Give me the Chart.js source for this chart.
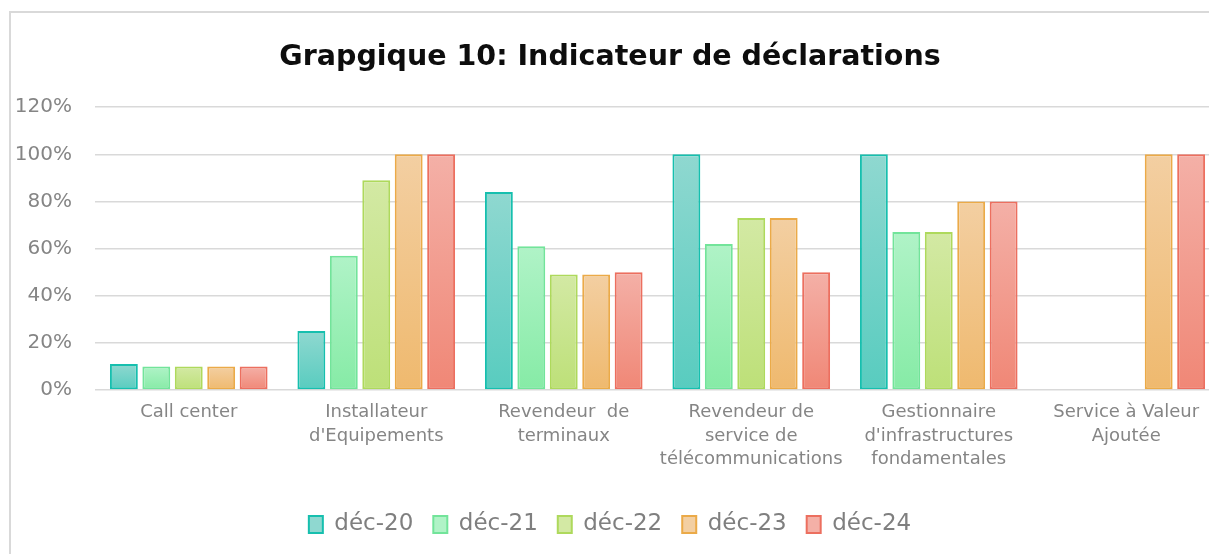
<!DOCTYPE html>
<html>
<head>
<meta charset="utf-8">
<script src="https://cdn.jsdelivr.net/npm/chart.js@4"></script>
<style>
  html, body { margin: 0; padding: 0; background: #fff; overflow: hidden; }
  #frame {
    position: absolute; left: 9px; top: 11px; width: 1300px; height: 600px;
    border-left: 2px solid #d9d9d9; border-top: 2px solid #d9d9d9;
  }
  #chart { position: absolute; left: 0; top: 0; }
</style>
</head>
<body>
<div id="frame"></div>
<canvas id="chart" width="1230" height="554"></canvas>
<script>
const categories = [
    ['Call center'],
    ['Installateur', "d'Equipements"],
    ['Revendeur  de', 'terminaux'],
    ['Revendeur de', 'service de', 'télécommunications'],
    ['Gestionnaire', "d'infrastructures", 'fondamentales'],
    ['Service à Valeur', 'Ajoutée']
];
const seriesNames = ['déc-20', 'déc-21', 'déc-22', 'déc-23', 'déc-24'];

// values in percent
const dec20 = [11, 25, 84, 100, 100, null];
const dec21 = [10, 57, 61, 62, 67, null];
const dec22 = [10, 89, 49, 73, 67, null];
const dec23 = [10, 100, 49, 73, 80, 100];
const dec24 = [10, 100, 50, 50, 80, 100];

const yTicks = [0, 20, 40, 60, 80, 100, 120];

// top, bottom, border
const palette = [
    ['#8fd8d0', '#58ccbf', '#16bfae'],
    ['#b0f3c7', '#86eba6', '#72e49a'],
    ['#d3e9a4', '#bde078', '#aed95c'],
    ['#f3cfa2', '#efb96e', '#ebaa48'],
    ['#f4b0a7', '#f08776', '#ec6f5f']
];

function barGradient(i) {
    return function(ctx) {
        const chart = ctx.chart;
        const mid = palette[i][1];
        if (!chart.chartArea || ctx.type !== 'data' || ctx.raw == null) return mid;
        const y = chart.scales.y;
        const top = y.getPixelForValue(ctx.raw);
        const bottom = y.getPixelForValue(0);
        if (!isFinite(top) || !isFinite(bottom) || top === bottom) return mid;
        const g = chart.ctx.createLinearGradient(0, top, 0, bottom);
        g.addColorStop(0, palette[i][0]);
        g.addColorStop(1, palette[i][1]);
        return g;
    };
}

const allSeries = [dec20, dec21, dec22, dec23, dec24];

const datasets = allSeries.map((data, i) => ({
    label: seriesNames[i],
    data,
    backgroundColor: barGradient(i),
    borderColor: palette[i][2],
    borderWidth: 2,
    borderSkipped: false,
    categoryPercentage: 0.865,
    barPercentage: 0.86
}));

Chart.defaults.font.family = '"DejaVu Sans", Verdana, sans-serif';

new Chart(document.getElementById('chart'), {
    type: 'bar',
    data: { labels: categories, datasets },
    options: {
        responsive: false,
        devicePixelRatio: 1,
        animation: false,
        layout: { padding: { left: 0, right: 10, top: 0, bottom: 8 } },
        plugins: {
            title: {
                display: true,
                text: 'Grapgique 10: Indicateur de déclarations',
                color: '#0d0d0d',
                font: { size: 28.5, weight: 'bold' },
                padding: { top: 40, bottom: 33 }
            },
            legend: {
                position: 'bottom',
                labels: {
                    color: '#7f7f7f',
                    font: { size: 23 },
                    boxWidth: 14,
                    boxHeight: 17,
                    padding: 20,
                    generateLabels: chart => chart.data.datasets.map((ds, i) => ({
                        text: ds.label,
                        fillStyle: palette[i][0],
                        strokeStyle: palette[i][2],
                        lineWidth: 2,
                        fontColor: '#7f7f7f',
                        datasetIndex: i
                    }))
                }
            },
            tooltip: { enabled: false }
        },
        scales: {
            x: {
                grid: { display: false },
                border: { display: false },
                ticks: {
                    color: '#858585',
                    font: { size: 18, lineHeight: 1.3 },
                    padding: 3,
                    maxRotation: 0,
                    autoSkip: false
                },
                afterFit: scale => { scale.height = 103; }
            },
            y: {
                min: 0,
                max: 120,
                afterBuildTicks: scale => { scale.ticks = yTicks.map(v => ({ value: v })); },
                grid: { color: '#d9d9d9', lineWidth: 1.5, drawTicks: false },
                border: { display: false },
                ticks: {
                    color: '#858585',
                    font: { size: 20 },
                    padding: 23,
                    callback: v => v + '%'
                },
                afterFit: scale => { scale.width = 95; }
            }
        }
    }
});
</script>
</body>
</html>
